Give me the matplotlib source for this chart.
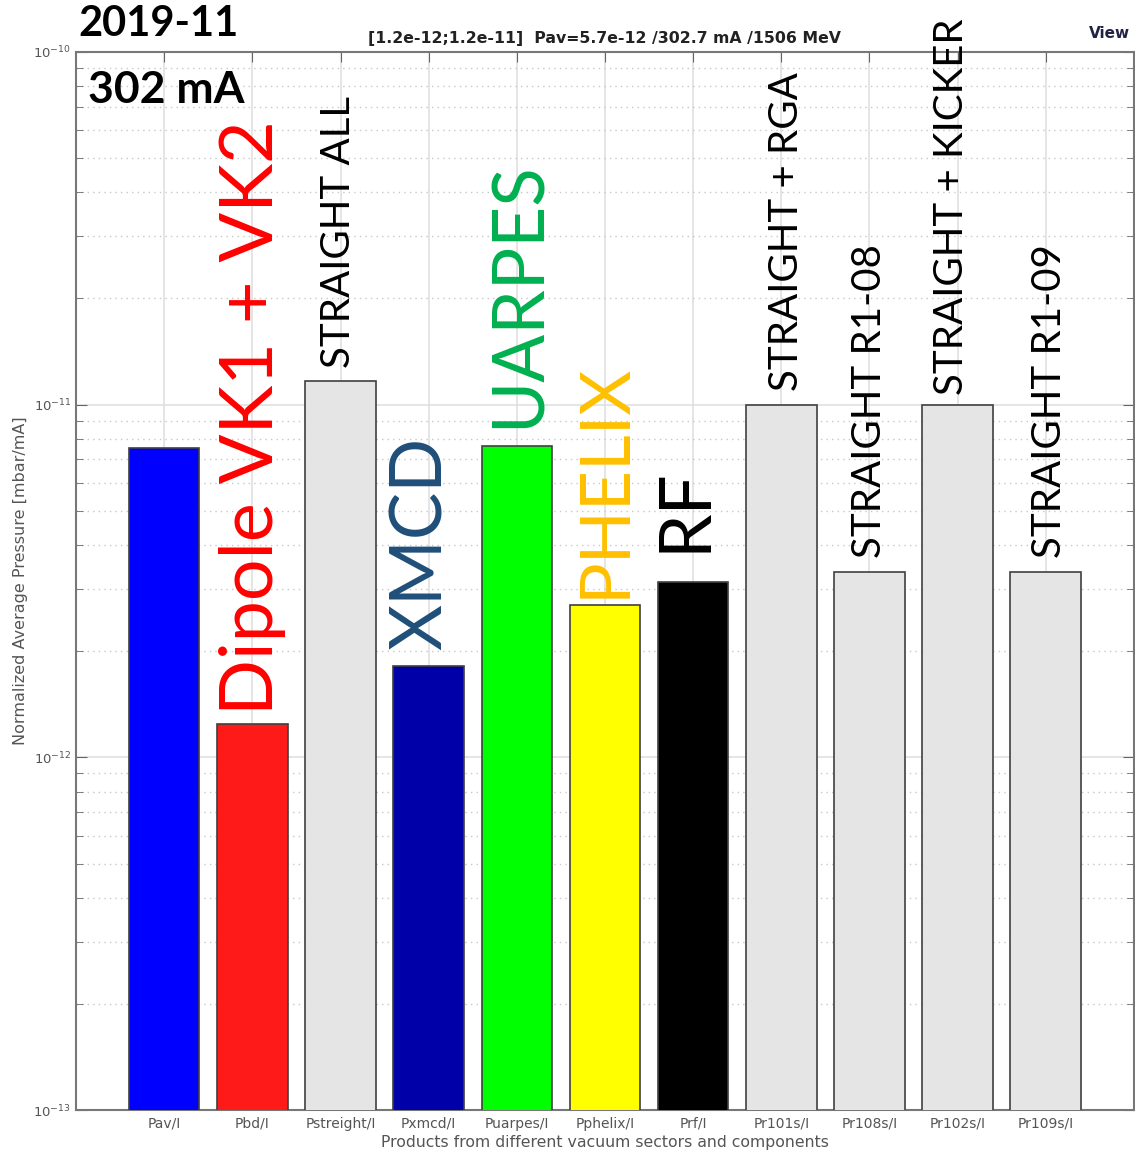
import numpy as np
import matplotlib.pyplot as plt
from matplotlib.ticker import LogLocator, NullFormatter

plt.rcParams['axes.unicode_minus'] = False

# bar data (normalized average pressure, mbar/mA)
names = ["Pav/I", "Pbd/I", "Pstreight/I", "Pxmcd/I", "Puarpes/I", "Pphelix/I",
         "Prf/I", "Pr101s/I", "Pr108s/I", "Pr102s/I", "Pr109s/I"]
values = [7.55e-12, 1.24e-12, 1.17e-11, 1.81e-12, 7.65e-12, 2.71e-12,
          3.15e-12, 1.0e-11, 3.36e-12, 1.0e-11, 3.36e-12]
bar_colors = ["#0000ff", "#ff1a1a", "#e5e5e5", "#0000a8", "#00ff00", "#ffff00",
              "#000000", "#e5e5e5", "#e5e5e5", "#e5e5e5", "#e5e5e5"]

# annotations written over the bars (bar index, text, colour, size)
notes = [(1, "Dipole VK1 + VK2", "#ff0000", 53),
         (2, "STRAIGHT ALL", "#000000", 29),
         (3, "XMCD", "#1f4e79", 51),
         (4, "UARPES", "#00b050", 51),
         (5, "PHELIX", "#ffc000", 50),
         (6, "RF", "#000000", 51),
         (7, "STRAIGHT + RGA", "#000000", 29),
         (8, "STRAIGHT R1-08", "#000000", 29),
         (9, "STRAIGHT + KICKER", "#000000", 29),
         (10, "STRAIGHT R1-09", "#000000", 29)]
# small hand placement shifts (points) so the words sit like in the original
shift_x = [0, -1.5, -5, 2, 0, -6, 3.5, 0, -4.5, 3]
shift_y = [7, 9, 12, 13, 5, 21, 10, 10, 7, 10]

fig = plt.figure(figsize=(11.35, 11.54), dpi=100)
ax = fig.add_axes([0.067, 0.0381, 0.932, 0.9169])

x = np.arange(1, len(names) + 1)
ax.bar(x, values, width=0.8, color=bar_colors, edgecolor="#404040", linewidth=1.2, zorder=3)

ax.set_yscale("log")
ax.set_ylim(1e-13, 1e-10)
ax.set_xlim(0, 12)
ax.set_xticks(x)
ax.set_xticklabels(names, fontsize=10, color="#555555")
ax.yaxis.set_minor_locator(LogLocator(base=10, subs=np.arange(2, 10)))
ax.yaxis.set_minor_formatter(NullFormatter())
ax.tick_params(axis="both", which="both", direction="in", top=True, right=True,
               colors="#666666", labelcolor="#555555")
ax.tick_params(axis="y", which="major", length=8, labelsize=9.5)
ax.tick_params(axis="y", which="minor", length=5)
ax.tick_params(axis="x", which="major", length=7, pad=5)
for s in ax.spines.values():
    s.set_color("#777777")
    s.set_linewidth(1.5)

ax.set_axisbelow(True)
ax.grid(True, which="major", axis="both", color="#e0e0e0", linewidth=1.2)
ax.grid(True, which="minor", axis="y", color="#c8c8c8", linestyle=(0, (1, 3)), linewidth=1)

ax.set_xlabel("Products from different vacuum sectors and components", fontsize=11.3,
              color="#555555")
ax.xaxis.set_label_coords(0.5, -0.024)
ax.set_ylabel("Normalized Average Pressure [mbar/mA]", fontsize=11.5, color="#555555", labelpad=4)

for (i, txt, col, size), dx, dy in zip(notes, shift_x, shift_y):
    ax.annotate(txt, (x[i], values[i]), xytext=(dx, dy), textcoords="offset points",
                rotation=90, ha="center", va="bottom", color=col, fontsize=size,
                family="Lato", zorder=4)

fig.text(0.533, 0.967, "[1.2e-12;1.2e-11]  Pav=5.7e-12 /302.7 mA /1506 MeV",
         ha="center", va="center", fontsize=11.3, fontweight="bold", color="#222222")
fig.text(0.996, 0.971, "View", ha="right", va="center", fontsize=11, fontweight="bold",
         color="#222244")
fig.text(0.069, 0.979, "2019-11", ha="left", va="center", fontsize=30, fontweight="bold",
         family="Lato", color="black")
ax.text(0.011, 0.983, "302 mA", transform=ax.transAxes, ha="left", va="top", fontsize=32,
        fontweight="bold", family="Lato", color="black")

fig.savefig("out.png", dpi=100)
